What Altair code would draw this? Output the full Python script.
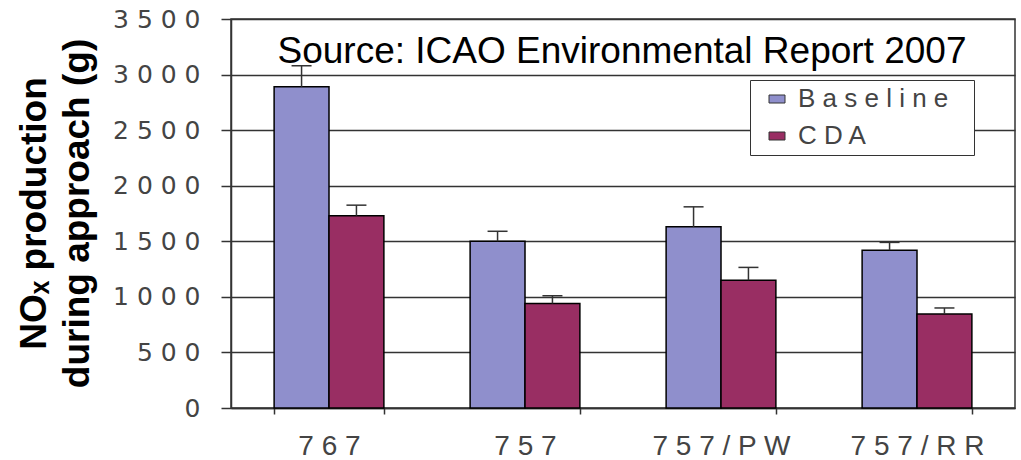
import altair as alt
import pandas as pd

categories = ["767", "757", "757/PW", "757/RR"]
series = ["Baseline", "CDA"]
baseline = [2890, 1500, 1630, 1420]
baseline_err = [190, 90, 180, 70]
cda = [1730, 940, 1150, 845]
cda_err = [95, 70, 115, 55]
y_ticks = [0, 500, 1000, 1500, 2000, 2500, 3000, 3500]
colors = ["#8F8FCC", "#992E63"]
source_note = "Source: ICAO Environmental Report 2007"

rows = []
for i, c in enumerate(categories):
    rows.append({"cat": c, "series": "Baseline", "value": baseline[i], "upper": baseline[i] + baseline_err[i]})
    rows.append({"cat": c, "series": "CDA", "value": cda[i], "upper": cda[i] + cda_err[i]})
df = pd.DataFrame(rows)

FONT = "Liberation Sans"
DARK = "#333333"
LABEL = "#444444"

x_enc = alt.X(
    "cat:N",
    sort=categories,
    scale=alt.Scale(paddingInner=0.44, paddingOuter=0.22),
    axis=alt.Axis(
        title=None,
        labelAngle=0,
        labelFont=FONT,
        labelFontSize=28,
        labelColor=LABEL,
        labelBaseline="alphabetic",
        labelPadding=40,
        labelExpr="join(split(datum.label, ''), ' ')",
        tickBand="extent",
        tickSize=6,
        tickColor=DARK,
        tickWidth=1.5,
        domainColor=DARK,
        domainWidth=1.5,
        grid=False,
    ),
)
xoff = alt.XOffset("series:N", sort=series, scale=alt.Scale(paddingInner=0, paddingOuter=0))

y_scale = alt.Scale(domain=[0, 3500], nice=False)

bars = alt.Chart(df).mark_bar(stroke="black", strokeWidth=1.5).encode(
    x=x_enc,
    xOffset=xoff,
    y=alt.Y(
        "value:Q",
        scale=y_scale,
        axis=alt.Axis(
            values=y_ticks,
            format="d",
            labelFont="DejaVu Sans",
            labelFontSize=25,
            labelColor=LABEL,
            labelPadding=21,
            labelExpr="join(split(datum.label, ''), ' ')",
            tickSize=10,
            tickColor=DARK,
            tickWidth=1.5,
            domainColor=DARK,
            domainWidth=1.5,
            gridColor=DARK,
            gridWidth=1.5,
            title=["NOₓ production", "during approach (g)"],
            titleFont=FONT,
            titleFontSize=37,
            titleFontWeight="bold",
            titleColor="black",
            titleAngle=-90,
            titleAlign="center",
            titleBaseline="alphabetic",
            titleLineHeight=43,
            titleX=-186,
            titleY=194,
        ),
    ),
    color=alt.Color(
        "series:N",
        sort=series,
        scale=alt.Scale(domain=series, range=colors),
        legend=alt.Legend(
            title=None,
            orient="none",
            legendX=519,
            legendY=61,
            fillColor="white",
            strokeColor=DARK,
            padding=6,
            labelFont=FONT,
            labelFontSize=26,
            labelColor=LABEL,
            labelOffset=8,
            labelLimit=400,
            labelExpr="join(split(datum.label, ''), ' ') + '\u2800'",
            symbolType="M-1,-0.5L1,-0.5L1,0.5L-1,0.5Z",
            symbolSize=256,
            symbolStrokeColor=DARK,
            symbolStrokeWidth=1,
            symbolOffset=8,
            symbolOpacity=1,
            rowPadding=11,
        ),
    ),
)

err_line = alt.Chart(df).mark_rule(color=DARK, strokeWidth=1.5).encode(
    x=x_enc, xOffset=xoff, y=alt.Y("value:Q", scale=y_scale), y2="upper:Q"
)
err_cap = alt.Chart(df).mark_tick(color=DARK, thickness=1.5, size=20, opacity=1).encode(
    x=x_enc, xOffset=xoff, y=alt.Y("upper:Q", scale=y_scale)
)

note = alt.Chart(alt.Data(values=[{"t": source_note}])).mark_text(
    font=FONT, fontSize=37, color="black", align="center", baseline="alphabetic"
).encode(x=alt.value(391), y=alt.value(44), text="t:N")

chart = (
    alt.layer(bars, err_line, err_cap, note)
    .properties(
        width=784,
        height=389,
        autosize=alt.AutoSizeParams(type="none"),
        padding={"left": 231, "top": 19, "right": 6, "bottom": 52},
        background="white",
    )
    .configure_view(stroke=DARK, strokeWidth=1.5)
)

chart.save("out.html", embed_options={"renderer": "svg", "actions": False})
